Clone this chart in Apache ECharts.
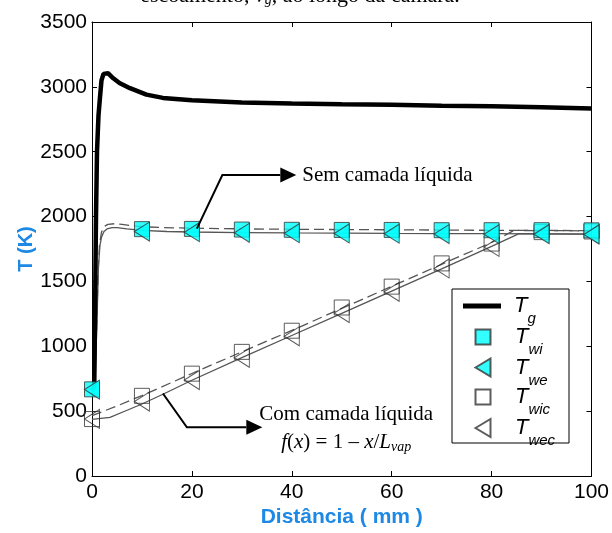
<!DOCTYPE html>
<html><head><meta charset="utf-8">
<script src="https://cdn.jsdelivr.net/npm/echarts@6/dist/echarts.min.js"></script>
<style>html,body{margin:0;padding:0;background:#fff}#c{width:612px;height:533px}</style>
</head><body><div id="c"></div>
<script>
// ---- data ----
const xTicks = [0, 20, 40, 60, 80, 100];
const yTicks = [0, 500, 1000, 1500, 2000, 2500, 3000, 3500];
const markerX = [0, 10, 20, 30, 40, 50, 60, 70, 80, 90, 100];
const twiMarkers  = [668, 1903, 1905, 1900, 1898, 1897, 1897, 1895, 1895, 1895, 1894];
const tweMarkers  = [666, 1884, 1880, 1875, 1872, 1870, 1868, 1865, 1864, 1864, 1862];
const twicMarkers = [439, 618, 789, 957, 1120, 1299, 1460, 1639, 1792, 1880, 1885];
const twecMarkers = [440, 574, 740, 911, 1077, 1256, 1420, 1600, 1766, 1870, 1866];

const tgCurve = [[0,660],[0.45,690],[0.6,1200],[0.8,2000],[1.0,2500],[1.3,2780],[1.6,2920],[1.9,3050],[2.3,3100],[2.7,3115],[3.2,3105],[4.2,3068],[5.5,3030],[7.6,2990],[10.9,2940],[14.2,2915],[20,2897],[30,2880],[40,2872],[50,2866],[60,2862],[70,2855],[80,2850],[90,2842],[100,2833]];
const twiCurve = [[0,668],[0.5,700],[0.9,1100],[1.2,1550],[1.5,1780],[1.9,1880],[2.5,1925],[3.2,1940],[4.5,1945],[6,1940],[8,1930],[10,1922],[14,1915],[20,1911],[30,1905],[40,1902],[50,1900],[60,1898],[70,1896],[80,1894],[90,1892],[100,1890]];
const tweCurve = [[0,665],[0.6,700],[1.0,1200],[1.3,1620],[1.6,1780],[1.9,1840],[2.4,1885],[3,1905],[4,1915],[5,1915],[7,1905],[10,1893],[15,1885],[20,1881],[30,1877],[40,1874],[50,1872],[60,1870],[70,1869],[80,1868],[90,1866],[100,1864]];
const twicCurve = [[0,465],[5,540],[10,620],[20,790],[30,957],[40,1122],[50,1292],[60,1462],[70,1632],[80,1800],[84.5,1893],[90,1893],[100,1892]];
const twecCurve = [[0,437],[3.6,452],[6.9,505],[10,555],[14.2,630],[20,738],[30,912],[40,1083],[50,1253],[60,1425],[70,1597],[80,1770],[85.5,1868],[90,1867],[100,1865]];

const legendNames = ['Tg', 'Twi', 'Twe', 'Twic', 'Twec'];
const legendSubs  = ['g', 'wi', 'we', 'wic', 'wec'];

// annotation anchors in data coordinates
const annotSem = { start: [21.0, 1907], elbow: [26.1, 2320], tip: [40.9, 2320], text: [42.1, 2320] };
const annotCom = { start: [14.2, 636], elbow: [19.0, 375], tip: [34.1, 375], text1: [50.9, 475], text2: [50.9, 262] };

// ---- chart ----
const chart = echarts.init(document.getElementById('c'), null, { renderer: 'canvas' });
const pair = (xs, ys) => xs.map((x, i) => [x, ys[i]]);
const triPath = 'path://M0,9L15,0L15,18Z';
const AX = '#000';
const LBL = { fontFamily: 'Liberation Sans', fontSize: 21, color: '#000' };
const BLUE = '#1e88e5';

function axisCommon(extra) {
  return Object.assign({
    type: 'value',
    axisLine: { show: true, onZero: false, lineStyle: { color: AX, width: 1 } },
    axisTick: { show: true, inside: true, length: 5, lineStyle: { color: AX } },
    splitLine: { show: false }
  }, extra);
}

const lineGray = '#555';
const seriesList = [
  { name: 'Twi-line', type: 'line', data: twiCurve, showSymbol: false, symbol: 'none', lineStyle: { color: lineGray, width: 1.3, type: [10, 5] }, z: 2, animation: false },
  { name: 'Twe-line', type: 'line', data: tweCurve, showSymbol: false, symbol: 'none', lineStyle: { color: lineGray, width: 1.3 }, z: 2, animation: false },
  { name: 'Twic-line', type: 'line', data: twicCurve, showSymbol: false, symbol: 'none', lineStyle: { color: lineGray, width: 1.3, type: [10, 5] }, z: 2, animation: false },
  { name: 'Twec-line', type: 'line', data: twecCurve, showSymbol: false, symbol: 'none', lineStyle: { color: lineGray, width: 1.3 }, z: 2, animation: false },
  { name: 'Tg', type: 'line', data: tgCurve, showSymbol: false, symbol: 'none', color: '#000', lineStyle: { color: '#000', width: 4.5 }, itemStyle: { color: '#000' }, z: 3, animation: false },
  { name: 'Twic', type: 'scatter', data: pair(markerX, twicMarkers), symbol: 'rect', symbolSize: 15, itemStyle: { color: 'rgba(255,255,255,0)', borderColor: '#333', borderWidth: 1 }, z: 4, animation: false },
  { name: 'Twec', type: 'scatter', data: pair(markerX, twecMarkers), symbol: triPath, symbolSize: [15, 19], itemStyle: { color: 'rgba(255,255,255,0)', borderColor: '#333', borderWidth: 1 }, z: 4, animation: false },
  { name: 'Twi', type: 'scatter', data: pair(markerX, twiMarkers), symbol: 'rect', symbolSize: 15, itemStyle: { color: '#00ffff', borderColor: '#333', borderWidth: 1 }, z: 5, animation: false },
  { name: 'Twe', type: 'scatter', data: pair(markerX, tweMarkers), symbol: triPath, symbolSize: [15, 19], itemStyle: { color: '#00ffff', borderColor: '#333', borderWidth: 1 }, z: 5, animation: false }
];

// legend: one component per row so each icon keeps its own size
const legendRows = [
  { icon: 'rect', w: 38, h: 5, cx: 482, cy: 305 },
  { icon: 'rect', w: 15, h: 15, cx: 482, cy: 336 },
  { icon: triPath, w: 15, h: 19, cx: 482, cy: 366.5 },
  { icon: 'rect', w: 15, h: 15, cx: 482, cy: 396 },
  { icon: triPath, w: 15, h: 19, cx: 482, cy: 427 }
];
const TEXT_X = 514;
const legends = legendNames.map((nm, i) => {
  const r = legendRows[i];
  const left = r.cx - r.w / 2;
  const padL = TEXT_X - (left + r.w + 5);
  return {
    data: [{ name: nm, icon: r.icon }],
    orient: 'vertical', left: left, top: r.cy - 20, padding: 0,
    itemWidth: r.w, itemHeight: r.h, selectedMode: false,
    formatter: () => '{t|T}{s|' + legendSubs[i] + '}',
    textStyle: {
      rich: {
        t: { fontFamily: 'Liberation Sans', fontStyle: 'italic', fontSize: 22, lineHeight: 20, padding: [10, 0, 10, padL], color: '#000' },
        s: { fontFamily: 'Liberation Sans', fontStyle: 'italic', fontSize: 15, lineHeight: 14, padding: [26, 0, 0, 0], color: '#000' }
      }
    },
    z: 10
  };
});

chart.setOption({
  animation: false,
  backgroundColor: '#fff',
  grid: { left: 92, right: 19, top: 22, bottom: 54 },
  xAxis: [
    axisCommon({ min: 0, max: 100, interval: 20, position: 'bottom',
      axisLabel: Object.assign({ margin: 6, formatter: v => String(v) }, LBL),
      name: 'Distância ( mm )', nameLocation: 'middle', nameGap: 31, nameMoveOverlap: false,
      nameTextStyle: { fontFamily: 'Liberation Sans', fontWeight: 'bold', fontSize: 21, color: BLUE } }),
    axisCommon({ min: 0, max: 100, interval: 20, position: 'top', axisLabel: { show: false } })
  ],
  yAxis: [
    axisCommon({ min: 0, max: 3500, interval: 500, position: 'left',
      axisLabel: Object.assign({ margin: 5, formatter: v => String(v) }, LBL),
      name: 'T (K)', nameLocation: 'middle', nameGap: 56, nameRotate: 90, nameMoveOverlap: false,
      nameTextStyle: { fontFamily: 'Liberation Sans', fontWeight: 'bold', fontSize: 20, color: BLUE } }),
    axisCommon({ min: 0, max: 3500, interval: 500, position: 'right', axisLabel: { show: false } })
  ],
  legend: legends,
  series: seriesList
});

// annotations, placed through the axes' own scales
const P = p => chart.convertToPixel({ xAxisIndex: 0, yAxisIndex: 0 }, p);
function arrow(a) {
  const s = P(a.start), e = P(a.elbow), t = P(a.tip);
  const L = 16, H = 7.5;
  const base = [t[0] - L, t[1]];
  return [
    { type: 'polyline', shape: { points: [s, e, base] }, style: { stroke: '#000', lineWidth: 2, fill: null }, z: 20 },
    { type: 'polygon', shape: { points: [t, [base[0], t[1] - H], [base[0], t[1] + H]] }, style: { fill: '#000' }, z: 20 }
  ];
}
const serif = 'Liberation Serif';
const semT = P(annotSem.text), com1 = P(annotCom.text1), com2 = P(annotCom.text2);
chart.setOption({
  graphic: [
    // legend frame
    { type: 'rect', shape: { x: 452, y: 289, width: 117, height: 154 }, style: { fill: '#fff', stroke: '#000', lineWidth: 1 }, z: 1, zlevel: 0 },
    // title line partially cut by the top edge
    { type: 'text', x: 300, y: 7, style: { text: '{n|escoamento, }{i|v}{s|g}{n|, ao longo da câmara.}', align: 'center', verticalAlign: 'bottom',
        rich: { n: { fontFamily: serif, fontSize: 22, color: '#000' }, i: { fontFamily: serif, fontSize: 22, fontStyle: 'italic', color: '#000' }, s: { fontFamily: serif, fontSize: 14, fontStyle: 'italic', color: '#000', padding: [8, 0, 0, 0] } } }, z: 20 },
    ...arrow(annotSem),
    ...arrow(annotCom),
    { type: 'text', x: semT[0], y: semT[1], style: { text: 'Sem camada líquida', font: '21px "Liberation Serif"', fill: '#000', align: 'left', verticalAlign: 'middle' }, z: 20 },
    { type: 'text', x: com1[0], y: com1[1], style: { text: 'Com camada líquida', font: '21px "Liberation Serif"', fill: '#000', align: 'center', verticalAlign: 'middle' }, z: 20 },
    { type: 'text', x: com2[0], y: com2[1], style: {
        text: '{i|f}{n|(}{i|x}{n|) = 1 – }{i|x}{n|/}{i|L}{s|vap}', align: 'center', verticalAlign: 'middle',
        rich: { n: { fontFamily: serif, fontSize: 21, color: '#000', lineHeight: 24 },
                i: { fontFamily: serif, fontSize: 21, fontStyle: 'italic', color: '#000', lineHeight: 24 },
                s: { fontFamily: serif, fontSize: 14, fontStyle: 'italic', color: '#000', lineHeight: 14, padding: [10, 0, 0, 0] } } }, z: 20 }
  ]
});
</script></body></html>
